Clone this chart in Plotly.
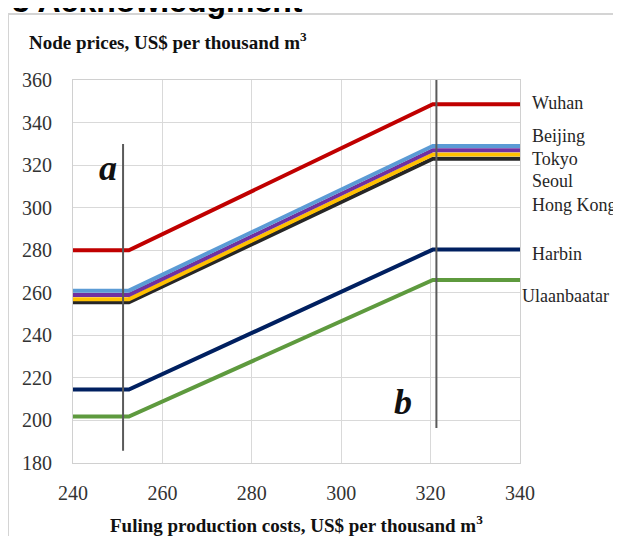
import plotly.graph_objects as go

# Data
cities = ["Wuhan", "Beijing", "Tokyo", "Seoul", "Hong Kong", "Harbin", "Ulaanbaatar"]
x_knots = [240, 252.5, 320.5, 340]
low_price = [280, 261, 259, 257, 255.5, 214.5, 201.8]
high_price = [348.6, 329, 327, 325, 323, 280.3, 266]
colors = ["#C00000", "#5B9BD5", "#7030A0", "#FFC000", "#262626", "#002060", "#5E9A3E"]
label_y = [349.4, 333.5, 322.8, 312.4, 301.4, 278.4, 258.4]
label_x = [0.0, 0.0, 0.0, 0.0, 0.0, 0.0, -10]  # pixel shift

line_a_x = [251.2, 251.2]
line_a_y = [185.7, 329.9]
line_b_x = [321.3, 321.3]
line_b_y = [196.5, 361]

x_ticks = [240, 260, 280, 300, 320, 340]
y_ticks = [180, 200, 220, 240, 260, 280, 300, 320, 340, 360]

SERIF = "Liberation Serif"

fig = go.Figure()

order = [0, 4, 3, 2, 1, 5, 6]
for i in order:
    fig.add_trace(go.Scatter(
        x=x_knots,
        y=[low_price[i], low_price[i], high_price[i], high_price[i]],
        mode="lines", line=dict(color=colors[i], width=4),
        name=cities[i], showlegend=False, hoverinfo="skip"))

for xs, ys in [(line_a_x, line_a_y), (line_b_x, line_b_y)]:
    fig.add_trace(go.Scatter(x=xs, y=ys, mode="lines",
                             line=dict(color="#5a5a5a", width=2),
                             showlegend=False, hoverinfo="skip"))

ann = []
for i, c in enumerate(cities):
    ann.append(dict(x=1.0, xref="paper", y=label_y[i], yref="y",
                    xanchor="left", yanchor="middle", xshift=10 + label_x[i],
                    text=c, showarrow=False,
                    font=dict(family=SERIF, size=18, color="#262626")))

ann.append(dict(x=247.8, y=318.7, xref="x", yref="y", text="<b><i>a</i></b>",
                showarrow=False, font=dict(family=SERIF, size=36, color="#111111")))
ann.append(dict(x=313.8, y=208.6, xref="x", yref="y", text="<b><i>b</i></b>",
                showarrow=False, font=dict(family=SERIF, size=36, color="#111111")))

ann.append(dict(x=-0.1029, xref="paper", y=1.1031, yref="paper", xanchor="left",
                yanchor="middle", showarrow=False,
                text="<b>Node prices, US$ per thousand m<sup>3</sup></b>",
                font=dict(family=SERIF, size=19, color="#111111")))
ann.append(dict(x=0.5, xref="paper", y=-0.1593, yref="paper", xanchor="center",
                yanchor="middle", showarrow=False,
                text="<b>Fuling production costs, US$ per thousand m<sup>3</sup></b>",
                font=dict(family=SERIF, size=19, color="#111111")))
ann.append(dict(x=-0.141, xref="paper", y=1.2065, yref="paper", xanchor="left",
                yanchor="middle", showarrow=False,
                text="<b>5 Acknowledgment</b>",
                font=dict(family="Liberation Sans", size=32, color="#000000")))

fig.update_layout(
    width=621, height=536,
    margin=dict(l=65, r=109, t=72, b=81),
    paper_bgcolor="white", plot_bgcolor="white",
    annotations=ann,
    shapes=[dict(type="rect", xref="paper", yref="paper",
                 x0=-0.1454, x1=1.4, y0=-0.5, y1=1.1723,
                 line=dict(color="#d4d4d4", width=2), layer="below")],
    xaxis=dict(range=[240, 340], tickvals=x_ticks, showgrid=True,
               gridcolor="#d9d9d9", gridwidth=1, showline=True, linecolor="#d0d0d0",
               mirror=True, zeroline=False, ticks="", ticklabelstandoff=12,
               tickfont=dict(family=SERIF, size=20, color="#333333")),
    yaxis=dict(range=[180, 360], tickvals=y_ticks, showgrid=True,
               gridcolor="#d9d9d9", gridwidth=1, showline=True, linecolor="#d0d0d0",
               mirror=True, zeroline=False, ticks="", ticklabelstandoff=16,
               tickfont=dict(family=SERIF, size=20, color="#333333")),
)

fig.write_html("out.html")
